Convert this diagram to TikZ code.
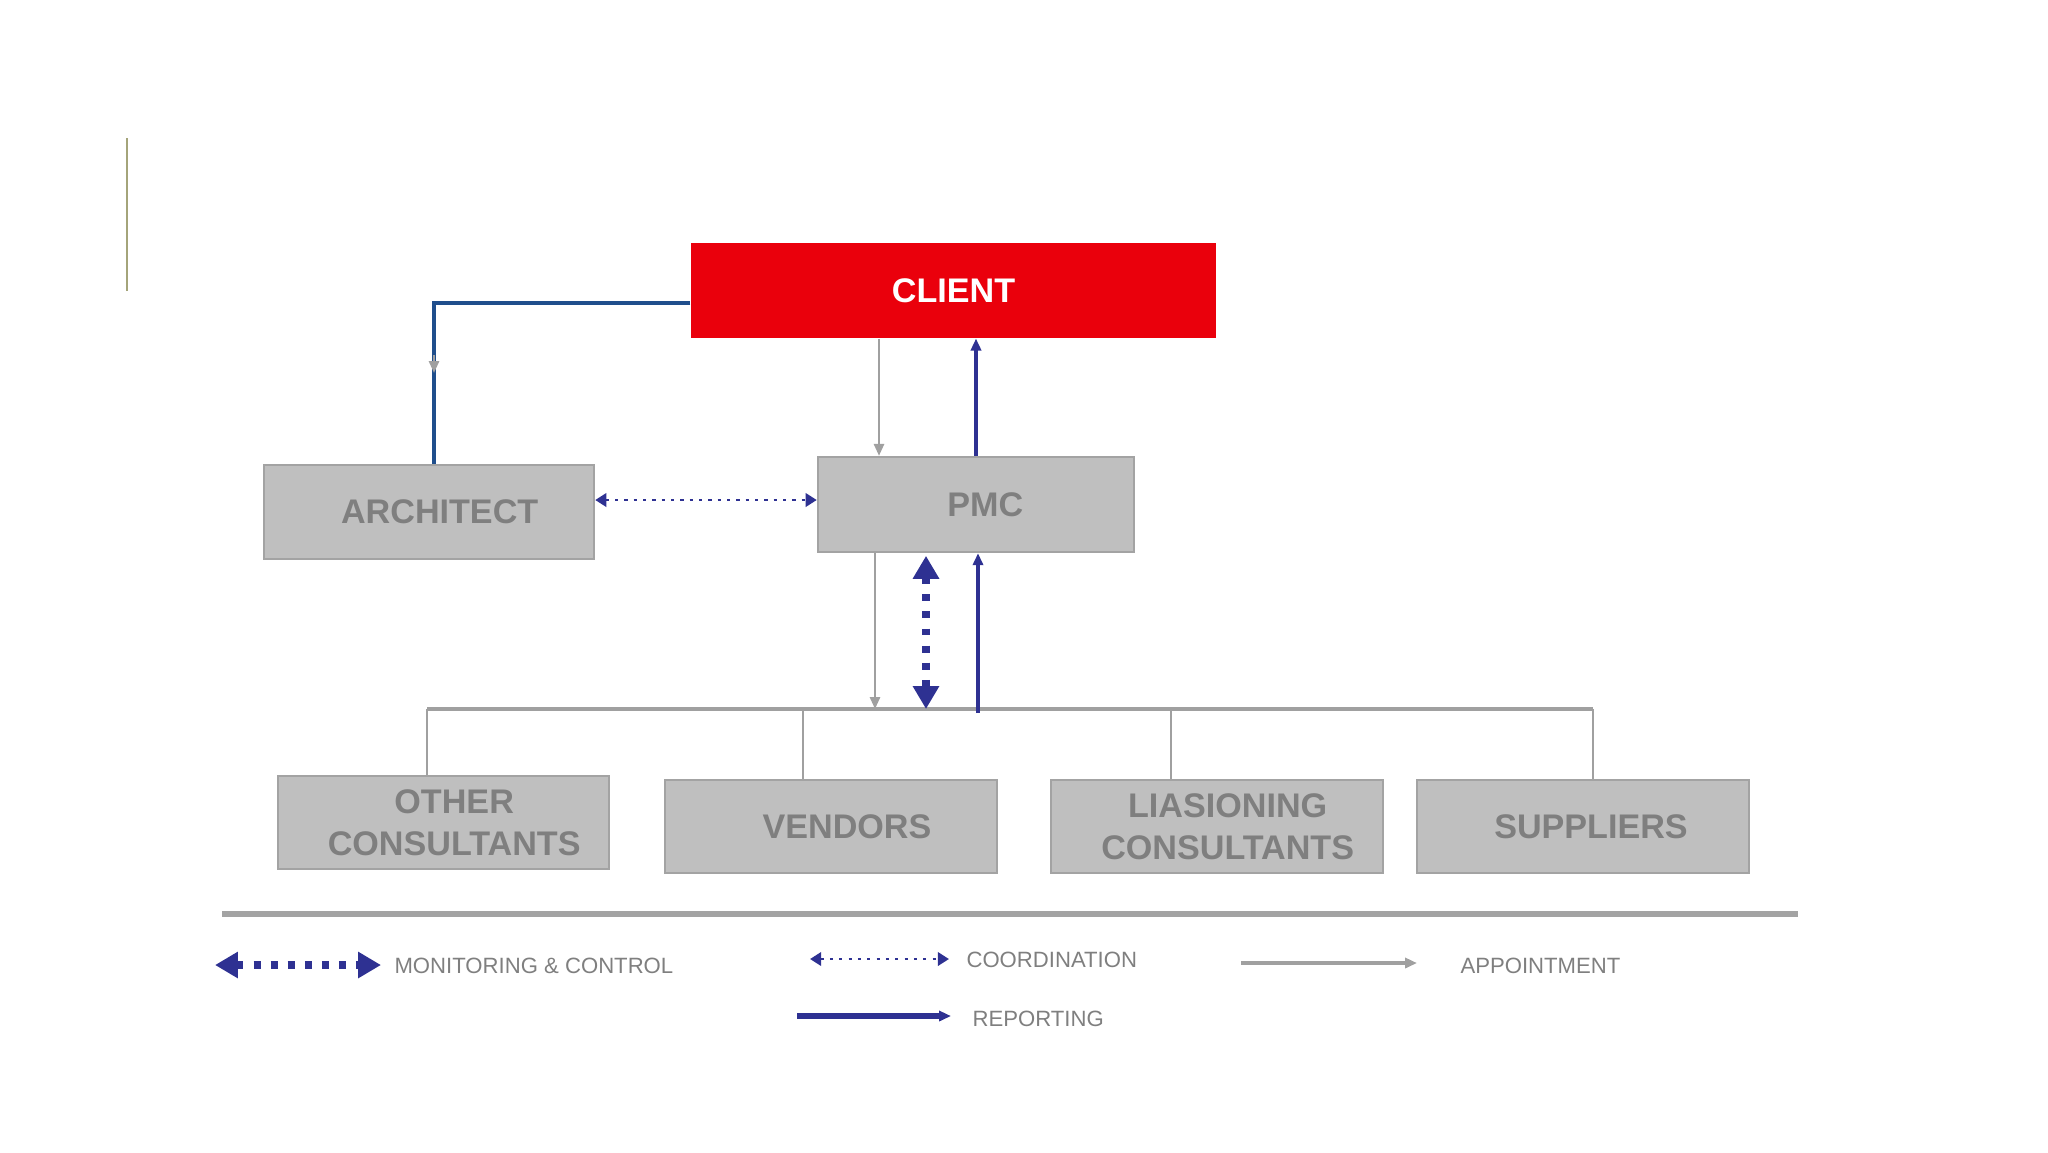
\documentclass[tikz,border=0pt]{standalone}
\usepackage{fontspec}
\setmainfont{Liberation Sans}
\usetikzlibrary{arrows.meta}
\definecolor{cred}{HTML}{EA000C}
\definecolor{boxfill}{HTML}{BFBFBF}
\definecolor{boxline}{HTML}{A3A3A3}
\definecolor{boxtext}{HTML}{7F7F7F}
\definecolor{navy}{HTML}{2E3192}
\definecolor{darkblue}{HTML}{1F4E8C}
\definecolor{apgray}{HTML}{A0A0A0}
\definecolor{olive}{HTML}{A4A47A}
\tikzset{
  box/.style={draw=boxline, line width=0.9pt, fill=boxfill, text=boxtext,
    font=\bfseries\fontsize{12.8}{15.6}\selectfont, align=center, inner sep=0pt,
    minimum width=124.5pt, minimum height=35pt},
  clientbox/.style={fill=cred, text=white, font=\bfseries\fontsize{12.8}{15.6}\selectfont,
    minimum width=196.9pt, minimum height=35.6pt, inner sep=0pt},
  appoint/.style={draw=apgray, line width=0.9pt, -{Triangle[length=4.5pt,width=3.8pt]}},
  report/.style={draw=navy, line width=1.3pt, -{Triangle[length=4.5pt,width=3.8pt]}},
  coord/.style={draw=navy, line width=1.1pt, dash pattern=on 1.2pt off 2.3pt,
    {Triangle[length=4.2pt,width=5pt]}-{Triangle[length=4.2pt,width=5pt]}},
  monitor/.style={draw=navy, line width=3pt, dash pattern=on 2.6pt off 3.8pt,
    {Triangle[length=8.6pt,width=9.4pt]}-{Triangle[length=8.6pt,width=9.4pt]}},
  legtext/.style={text=boxtext, font=\fontsize{8.3}{10}\selectfont, anchor=west, inner sep=0pt},
  busline/.style={draw=apgray, line width=1.5pt},
  drop/.style={draw=apgray, line width=0.75pt},
}
\begin{document}
\begin{tikzpicture}[x=0.375pt,y=-0.375pt]
\useasboundingbox (0,0) rectangle (2048,1152);
% decorative vertical line
\draw[olive, line width=0.8pt] (127,138) -- (127,291);

% nodes
\node[clientbox] (client) at (953.5,290.5) {CLIENT};
\node[box, minimum width=123.75pt, minimum height=35.25pt] (architect) at (429,512) {\hspace*{8pt}ARCHITECT};
\node[box, minimum width=118.5pt, minimum height=35.6pt] (pmc) at (976,504.5) {\hspace*{7pt}PMC};
\node[box, minimum width=124.1pt, minimum height=34.9pt] (other) at (443.5,822.5) {\hspace*{8pt}OTHER\\\hspace*{8pt}CONSULTANTS};
\node[box] (vendors) at (831,826.5) {\hspace*{12pt}VENDORS};
\node[box] (lias) at (1217,826.5) {\hspace*{8pt}LIASIONING\\\hspace*{8pt}CONSULTANTS};
\node[box] (suppliers) at (1583,826.5) {\hspace*{6pt}SUPPLIERS};

% helper coordinates
\coordinate (xarch) at (434,0);
\coordinate (ya) at (0,303);
\coordinate (yc) at (0,500);
\coordinate (xcp) at (879,0);
\coordinate (xpc) at (976,0);
\coordinate (xpb) at (875,0);
\coordinate (xmon) at (926,0);
\coordinate (xrep) at (978,0);
\coordinate (busL) at (427,709);
\coordinate (busR) at (1593,709);
\coordinate (d2) at (803,709);
\coordinate (d3) at (1171,709);
\coordinate (arrA) at (434,355);
\coordinate (arrB) at (434,373);

% client -> architect
\draw[darkblue, line width=1.3pt] (client.west |- ya) -- (xarch |- ya) -- (architect.north -| xarch);
\draw[appoint, line width=0.9pt] (arrA) -- (arrB);

% client <-> pmc
\draw[appoint] (client.south -| xcp) -- (pmc.north -| xcp);
\draw[report] (pmc.north -| xpc) -- (client.south -| xpc);

% architect <-> pmc coordination
\draw[coord] (architect.east |- yc) -- (pmc.west |- yc);

% bus
\draw[busline] (busL) -- (busR);
\draw[drop] (busL) -- (other.north -| busL);
\draw[drop] (d2) -- (vendors.north -| d2);
\draw[drop] (d3) -- (lias.north -| d3);
\draw[drop] (busR) -- (suppliers.north -| busR);

% pmc <-> bus
\draw[appoint] (pmc.south -| xpb) -- (busL -| xpb);
\draw[monitor] ([yshift=-1pt]pmc.south -| xmon) -- (busL -| xmon);
\draw[report] ([yshift=-1.5pt]busL -| xrep) -- (pmc.south -| xrep);

% separator
\draw[draw=boxline, line width=1.9pt] (222,914) -- (1798,914);

% legend
\coordinate (m1) at (215,965); \coordinate (m2) at (381,965);
\coordinate (c1) at (810,959); \coordinate (c2) at (949,959);
\coordinate (a1) at (1241,963); \coordinate (a2) at (1417,963);
\coordinate (r1) at (797,1016); \coordinate (r2) at (951,1016);
\draw[monitor] (m1) -- (m2);
\draw[coord] (c1) -- (c2);
\draw[appoint, line width=1.4pt] (a1) -- (a2);
\draw[report, line width=1.9pt] (r1) -- (r2);
\node[legtext] (lm) at (394,966) {MONITORING \& CONTROL};
\node[legtext] (lc) at (966,960) {COORDINATION};
\node[legtext] (la) at (1460,966) {APPOINTMENT};
\node[legtext] (lr) at (972,1019) {REPORTING};
\end{tikzpicture}
\end{document}
